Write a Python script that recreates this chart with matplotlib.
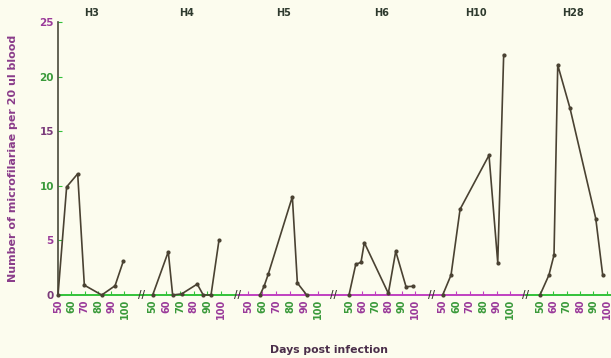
import matplotlib
matplotlib.use("Agg")
import matplotlib.pyplot as plt

# ---- data ----
panels = ["H3", "H4", "H5", "H6", "H10", "H28"]
h3_days = [50, 56.5, 64.8, 69.8, 82.9, 92.9, 99.1]
h3_vals = [0, 9.9, 11.1, 0.9, 0, 0.85, 3.1]
h4_days = [50, 61.4, 64.6, 71.2, 82.6, 87, 92.7, 98.5]
h4_vals = [0, 3.96, 0, 0.1, 1.0, 0, 0, 5.0]
h5_days = [58.4, 61.3, 64.3, 81.6, 85.2, 91.9]
h5_vals = [0, 0.8, 1.9, 9.0, 1.1, 0]
h6_days = [50, 55.1, 59.1, 61.6, 79.8, 85.4, 93.2, 98.7]
h6_vals = [0, 2.8, 3.0, 4.8, 0.15, 4.0, 0.76, 0.8]
h10_days = [50, 56.2, 62.9, 84.4, 90.9, 95.3]
h10_vals = [0, 1.83, 7.85, 12.8, 2.96, 22.0]
h28_days = [50, 56.7, 60.5, 63.3, 72.5, 91.8, 97]
h28_vals = [0, 1.83, 3.66, 21.06, 17.1, 7.0, 1.83]
series_days = [h3_days, h4_days, h5_days, h6_days, h10_days, h28_days]
series_vals = [h3_vals, h4_vals, h5_vals, h6_vals, h10_vals, h28_vals]
x_ticks = [50, 60, 70, 80, 90, 100]
x_ticklabels = ["50", "60", "70", "80", "90", "100"]
y_ticks = [0, 5, 10, 15, 20, 25]
y_ticklabels = ["0", "5", "10", "15", "20", "25"]

# ---- layout (pixel anchors) ----
W, H = 611, 358
bg = "#FCFCEE"
left_px = [58, 142, 238, 333, 432, 526]
right_px = [142, 238, 333, 432, 526, 611]
p50 = [58, 152.7, 248.3, 349, 442.7, 540]
p100 = [124.5, 221, 318, 415, 510, 606.7]
top_px, bot_px = 22, 295

line_col = "#4a4232"
green = "#33c23a"
magenta = "#c040c0"
spine_cols = [green, green, magenta, magenta, magenta, green]
lab_cols = ["#9a3a9a", "#3a9a3a"]

fig = plt.figure(figsize=(W / 100, H / 100), dpi=100, facecolor=bg)

for i, name in enumerate(panels):
    l, r = left_px[i], right_px[i]
    ax = fig.add_axes([l / W, 1 - bot_px / H, (r - l) / W, (bot_px - top_px) / H])
    ax.set_facecolor("none")
    s = (p100[i] - p50[i]) / 50.0
    lo = 50 + (l - p50[i]) / s
    hi = 50 + (r - p50[i]) / s
    ax.set_xlim(lo, hi)
    ax.set_ylim(0, 25)
    ax.plot(series_days[i], series_vals[i], color=line_col, lw=1.2,
            marker="o", ms=2.0, mfc=line_col, mec=line_col, clip_on=False, zorder=3)
    for sp in ["top", "right"]:
        ax.spines[sp].set_visible(False)
    ax.spines["bottom"].set_color(spine_cols[i])
    ax.spines["bottom"].set_linewidth(1.4)
    ax.set_xticks(x_ticks)
    ax.set_xticklabels(x_ticklabels, rotation=90, fontsize=7, fontweight="bold")
    for k, t in enumerate(ax.get_xticklabels()):
        t.set_color(lab_cols[(k + i) % 2])
    ax.tick_params(axis="x", direction="in", length=3, width=0.8,
                   color=spine_cols[i], pad=3)
    if i == 0:
        ax.spines["left"].set_color("#4a4a3a")
        ax.spines["left"].set_linewidth(1.2)
        ax.set_yticks(y_ticks)
        ax.set_yticklabels(y_ticklabels, fontsize=7.5, fontweight="bold")
        for k, t in enumerate(ax.get_yticklabels()):
            t.set_color(lab_cols[(k + 1) % 2] if k % 3 else "#7a3a7a")
        ax.tick_params(axis="y", direction="in", length=3, width=0.8,
                       color=green, pad=3)
    else:
        ax.spines["left"].set_visible(False)
        ax.set_yticks([])
        ax.text(0, 0, "//", transform=ax.transAxes, ha="center", va="center",
                fontsize=7, fontweight="bold", color="#3a3a30",
                clip_on=False)
    ax.text(75, 25.4, name, ha="center", va="bottom", fontsize=7,
            fontweight="bold", color="#2e3a2e", clip_on=False)

fig.text(13 / W, 1 - 158 / H, "Number of microfilariae per 20 ul blood",
         rotation=90, ha="center", va="center", fontsize=8, fontweight="bold",
         color="#8a3c8a")
fig.text(329 / W, 1 - 350 / H, "Days post infection", ha="center", va="center",
         fontsize=7.8, fontweight="bold", color="#4a2e4a")

fig.savefig("out.png", dpi=100, facecolor=bg)
